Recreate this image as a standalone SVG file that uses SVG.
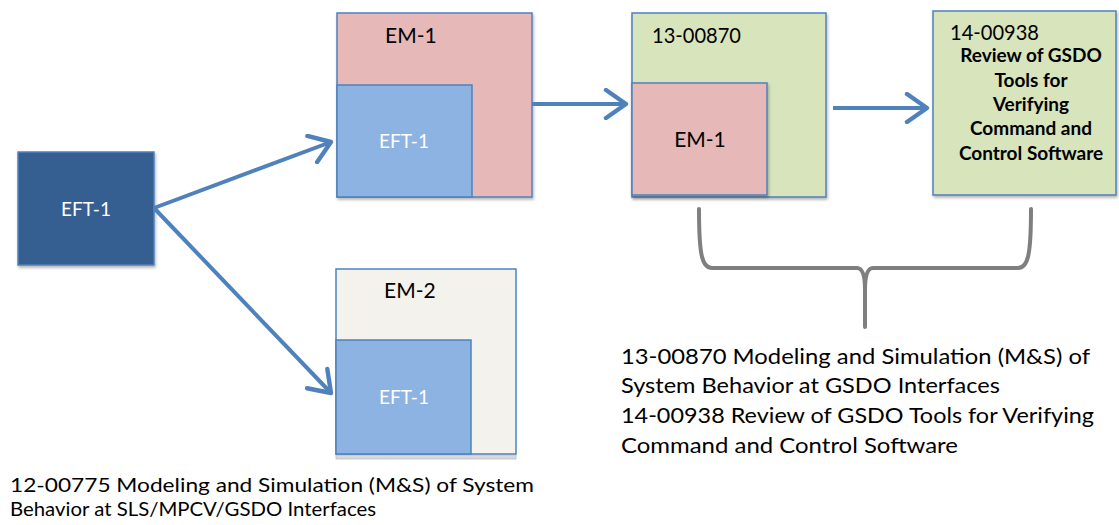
<svg xmlns="http://www.w3.org/2000/svg" width="1119" height="525" viewBox="0 0 1119 525">
<style>
.box{stroke:#4f81bd;stroke-width:1.5}
.dark{fill:#365f91}
.blue{fill:#8db3e2}
.pink{fill:#e6b9b8}
.green{fill:#d7e4bc}
.beige{fill:#f3f2ec}
.wt{font-family:Lato,"Noto Sans",sans-serif;font-size:19px;fill:#ffffff;text-anchor:middle}
.bt{font-family:Lato,"Noto Sans",sans-serif;font-size:21px;fill:#000000}
.bold{font-family:Lato,"Noto Sans",sans-serif;font-size:19px;font-weight:bold;fill:#000000;text-anchor:middle}
.cap{font-family:Lato,"Noto Sans",sans-serif;font-size:22px;fill:#000000}
.cap2{font-family:Lato,"Noto Sans",sans-serif;font-size:19px;fill:#000000}
.conn{stroke:#4f81bd;stroke-width:4;fill:none;marker-end:url(#arr)}
</style>
<defs>
<marker id="arr" markerWidth="8" markerHeight="8" refX="6" refY="4" orient="auto" markerUnits="strokeWidth" viewBox="0 0 8 8">
<polyline points="1,0.5 6,4 1,7.5" fill="none" stroke="#4f81bd" stroke-width="1.1" stroke-linecap="round" stroke-linejoin="round"/>
</marker>
<filter id="sh" x="-10%" y="-10%" width="125%" height="125%">
<feDropShadow dx="1" dy="2" stdDeviation="1.5" flood-color="#000" flood-opacity="0.3"/>
</filter>
</defs>

<g id="eft1-source">
<rect class="box dark" x="18" y="152" width="136" height="113" filter="url(#sh)"/>
<text class="wt" x="86" y="216">EFT-1</text>
</g>

<g id="em1">
<rect class="box pink" x="337" y="13" width="195" height="184" filter="url(#sh)"/>
<text class="bt" x="385" y="43">EM-1</text>
<rect class="box blue" x="337" y="85" width="135" height="112"/>
<text class="wt" x="404" y="148">EFT-1</text>
</g>

<g id="em2">
<rect x="336" y="455" width="180" height="4" fill="#d9d9d9" stroke="#bfbfbf" stroke-width="0.8"/>
<rect class="box beige" x="336" y="269" width="180" height="185"/>
<text class="bt" x="384" y="298">EM-2</text>
<rect class="box blue" x="336" y="340" width="135" height="114"/>
<text class="wt" x="404" y="404">EFT-1</text>
</g>

<g id="n13-00870">
<rect class="box green" x="632" y="13" width="194" height="184" filter="url(#sh)"/>
<text class="bt" x="652" y="43" textLength="89" lengthAdjust="spacingAndGlyphs">13-00870</text>
<rect class="box pink" x="632" y="83" width="135" height="112" filter="url(#sh)"/>
<text class="bt" x="700" y="147" text-anchor="middle">EM-1</text>
</g>

<g id="n14-00938">
<rect class="box green" x="933" y="11" width="183" height="184" filter="url(#sh)"/>
<text class="bt" x="950" y="40" textLength="89" lengthAdjust="spacingAndGlyphs">14-00938</text>
<text class="bold" x="1031" y="62">Review of GSDO</text>
<text class="bold" x="1031" y="87">Tools for</text>
<text class="bold" x="1031" y="111">Verifying</text>
<text class="bold" x="1031" y="135">Command and</text>
<text class="bold" x="1031" y="160">Control Software</text>
</g>

<g id="connectors">
<line class="conn" x1="154" y1="208" x2="331" y2="142"/>
<line class="conn" x1="154" y1="208" x2="331" y2="393"/>
<line class="conn" x1="532" y1="104" x2="626" y2="104"/>
<line class="conn" x1="833" y1="108" x2="927" y2="108"/>
</g>

<g id="brace">
<path d="M699,209 C699,255 702,268 712,268 L857,268 C862,268 865,275 865,290 L865,327 M1031,209 C1031,255 1028,268 1018,268 L873,268 C868,268 865,275 865,290" fill="none" stroke="#7f7f7f" stroke-width="4" stroke-linecap="round" stroke-linejoin="round"/>
</g>

<g id="captions">
<text class="cap" x="621" y="364" textLength="469" lengthAdjust="spacingAndGlyphs">13-00870 Modeling and Simulation (M&amp;S) of</text>
<text class="cap" x="621" y="393" textLength="379" lengthAdjust="spacingAndGlyphs">System Behavior at GSDO Interfaces</text>
<text class="cap" x="621" y="423" textLength="473" lengthAdjust="spacingAndGlyphs">14-00938 Review of GSDO Tools for Verifying</text>
<text class="cap" x="621" y="453" textLength="337" lengthAdjust="spacingAndGlyphs">Command and Control Software</text>
<text class="cap2" x="10" y="492" textLength="524" lengthAdjust="spacingAndGlyphs">12-00775 Modeling and Simulation (M&amp;S) of System</text>
<text class="cap2" x="10" y="516" textLength="366" lengthAdjust="spacingAndGlyphs">Behavior at SLS/MPCV/GSDO Interfaces</text>
</g>
</svg>
